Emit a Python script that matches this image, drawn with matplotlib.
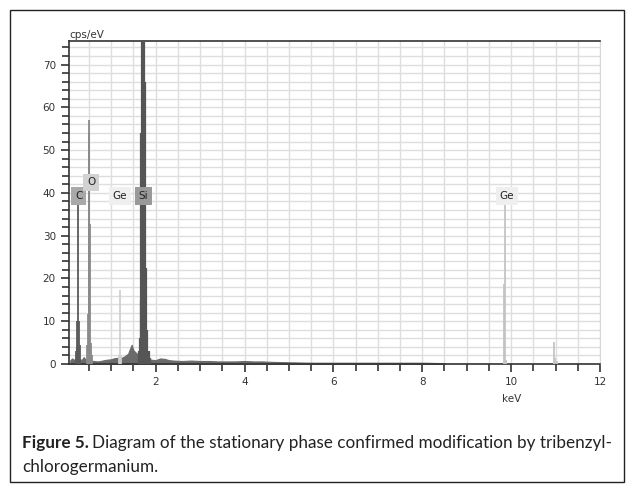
import matplotlib
matplotlib.use('Agg')
import matplotlib.pyplot as plt
from matplotlib import font_manager
from matplotlib.patches import Rectangle
import numpy as np

# background continuum (keV, cps/eV)
bg_kev = [0.08, 0.12, 0.16, 0.20, 0.34, 0.38, 0.42, 0.60, 0.70, 0.80, 0.90, 1.00, 1.05,
          1.10, 1.25, 1.30, 1.38, 1.42, 1.46, 1.50, 1.56, 1.60, 1.90, 2.00, 2.10, 2.20,
          2.30, 2.40, 2.60, 2.80, 3.00, 3.20, 3.40, 3.60, 3.80, 4.00, 4.20, 4.40, 4.60,
          5.00, 5.50, 6.00, 6.50, 7.00, 7.50, 8.00, 8.50]
bg_cps = [0.9, 1.3, 1.0, 1.2, 1.0, 1.6, 1.1, 0.7, 0.6, 0.8, 1.0, 1.1, 1.3,
          1.4, 1.5, 1.8, 2.4, 3.5, 4.5, 3.2, 2.6, 2.2, 1.0, 0.9, 1.3, 1.2,
          0.9, 0.8, 0.7, 0.8, 0.7, 0.7, 0.6, 0.6, 0.6, 0.7, 0.6, 0.6, 0.5,
          0.4, 0.3, 0.3, 0.3, 0.3, 0.3, 0.3, 0.2]

# element peaks
c_kev = [0.20, 0.22, 0.24, 0.26, 0.28, 0.30]
c_cps = [3.0, 4.0, 10.0, 37.3, 10.0, 4.5]
o_kev = [0.46, 0.48, 0.49, 0.50, 0.51, 0.52, 0.54, 0.56]
o_cps = [4.5, 11.7, 12.0, 57.0, 54.0, 32.7, 5.0, 2.0]
gel_kev = [1.17, 1.19, 1.21]
gel_cps = [2.0, 17.3, 2.0]
si_kev = [1.62, 1.64, 1.66, 1.68, 1.70, 1.72, 1.74, 1.76, 1.78, 1.80, 1.84, 1.88]
si_cps = [3.0, 6.0, 15.0, 54.0, 80.0, 80.0, 80.0, 66.0, 22.5, 8.0, 3.0, 1.5]
gek_kev = [9.84, 9.86, 9.88, 10.96, 10.98, 11.04]
gek_cps = [18.7, 37.5, 1.0, 5.2, 1.5, 0.8]

labels = ['C', 'O', 'Ge', 'Si', 'Ge']
label_x = [0.27, 0.55, 1.20, 1.73, 9.90]
label_y = [39.3, 42.5, 39.3, 39.3, 39.3]
label_bg = ['#a9a9a9', '#d2d2d2', '#efefef', '#9a9a9a', '#efefef']

names = {f.name for f in font_manager.fontManager.ttflist}
cap_font = 'Lato' if 'Lato' in names else 'Liberation Sans'

fig = plt.figure(figsize=(6.34, 4.92), dpi=100)
ax = fig.add_axes([69/634, 128/492, 531/634, 323/492])

ax.fill_between(bg_kev, bg_cps, color='#6a6a6a', lw=0.8, zorder=2)
ax.vlines(c_kev, 0, c_cps, color='#5a5a5a', lw=1.3, zorder=3)
ax.vlines(o_kev, 0, o_cps, color='#8a8a8a', lw=1.3, zorder=3)
ax.vlines(gel_kev, 0, gel_cps, color='#d0d0d0', lw=1.3, zorder=3)
ax.vlines(si_kev, 0, si_cps, color='#555555', lw=1.6, zorder=3)
ax.vlines(gek_kev, 0, gek_cps, color='#c4c4c4', lw=1.3, zorder=3)

for t, x, y, c in zip(labels, label_x, label_y, label_bg):
    ax.text(x, y, t, ha='center', va='center', fontsize=7.5, color='#222222', zorder=5,
            bbox=dict(boxstyle='square,pad=0.35', fc=c, ec='none'))

ax.set_xlim(0.05, 12)
ax.set_ylim(0, 75.5)
ax.set_xticks([2, 4, 6, 8, 10, 12])
ax.set_xticks(np.arange(0.5, 12, 0.5), minor=True)
ax.set_yticks(np.arange(0, 71, 10))
ax.set_yticks(np.arange(0, 76, 2), minor=True)
ax.tick_params(which='both', direction='out', color='#333333', width=1.2, labelsize=7.5,
               labelcolor='#333333')
ax.tick_params(which='major', length=6)
ax.tick_params(which='minor', length=5)
ax.grid(which='both', color='#dedede', lw=1, zorder=0)
ax.set_axisbelow(True)
for s in ['left', 'bottom', 'top']:
    ax.spines[s].set_color('#333333')
    ax.spines[s].set_linewidth(1.2)
ax.spines['right'].set_color('#d8d8d8')

ax.text(0, 1.003, 'cps/eV', transform=ax.transAxes, ha='left', va='bottom', fontsize=7.5,
        color='#333333')
ax.set_xlabel('keV', fontsize=7.5, color='#333333')
ax.xaxis.set_label_coords((10 - 0.05) / 11.95, -0.092)

# outer frame
fig.patches.append(Rectangle((10/634, 10/492), 614/634, 472/492, transform=fig.transFigure,
                             fill=False, ec='#222222', lw=1.0))

# caption, sized so that the first line spans the same width as in the original
r = fig.canvas.get_renderer()
y1 = (492 - 443) / 492
t1 = fig.text(22/634, y1, 'Figure 5.', fontsize=13, fontweight='bold',
              family=cap_font, color='#222222', va='center', ha='left')
t2 = fig.text(0, y1, 'Diagram of the stationary phase confirmed modification by tribenzyl-',
              fontsize=13, family=cap_font, color='#222222', va='center', ha='left')
w = t1.get_window_extent(renderer=r).width + 4 + t2.get_window_extent(renderer=r).width
size = 13 * 588 / w
t1.set_fontsize(size)
t2.set_fontsize(size)
bb = t1.get_window_extent(renderer=r)
t2.set_x((bb.x1 + 3) / 634)
fig.text(22/634, (492 - 467) / 492, 'chlorogermanium.', fontsize=size, family=cap_font,
         color='#222222', va='center', ha='left')

fig.savefig('out.png', dpi=100)
